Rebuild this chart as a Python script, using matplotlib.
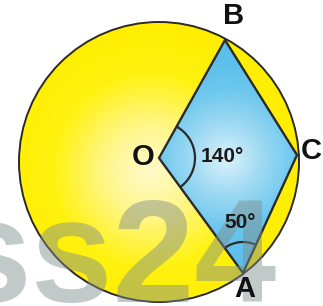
import numpy as np
import matplotlib
matplotlib.use("Agg")
import matplotlib.pyplot as plt
from matplotlib.patches import Circle, Polygon, Arc
from matplotlib.colors import LinearSegmentedColormap

# geometry (pixel coords of the diagram)
center = (159, 162)
radius = 140
points = {"O": (159, 158), "B": (225, 40), "C": (297, 155), "A": (243, 273)}
point_labels = ["B", "C", "O", "A"]
label_pos = {"B": (234, 16), "C": (311, 151), "O": (143, 157), "A": (245, 289)}
angle_labels = ["140°", "50°"]
angle_label_pos = [(222, 157), (240, 223)]

W, H = 323, 306
fig = plt.figure(figsize=(W / 100, H / 100), dpi=100)
ax = fig.add_axes([0, 0, 1, 1])
ax.set_xlim(0, W)
ax.set_ylim(H, 0)
ax.set_aspect("equal")
ax.axis("off")

yy, xx = np.mgrid[0:H, 0:W]

# yellow circle gradient
circ = Circle(center, radius, facecolor="none", edgecolor="none")
ax.add_patch(circ)
d = np.hypot(xx - 150, yy - 170) / 150
ycmap = LinearSegmentedColormap.from_list(
    "y", [(0, "#fffacc"), (0.3, "#fff68a"), (0.65, "#fff210"), (1, "#ffee00")])
im = ax.imshow(d, cmap=ycmap, vmin=0, vmax=1, extent=(0, W, H, 0), zorder=1)
im.set_clip_path(circ)

# blue quadrilateral gradient
quad_pts = [points[k] for k in ["O", "B", "C", "A"]]
quad = Polygon(quad_pts, closed=True, facecolor="none", edgecolor="none")
ax.add_patch(quad)
d2 = np.hypot(xx - 226, yy - 158) / 100
bcmap = LinearSegmentedColormap.from_list(
    "b", [(0, "#dcf2fb"), (0.35, "#9fdaf3"), (0.7, "#6cc7ee"), (1, "#5bbfea")])
im2 = ax.imshow(d2, cmap=bcmap, vmin=0, vmax=1, extent=(0, W, H, 0), zorder=2)
im2.set_clip_path(quad)

lc = "#2a2a2a"
ax.add_patch(Circle(center, radius, facecolor="none", edgecolor=lc, lw=1.4, zorder=3))
ax.add_patch(Polygon(quad_pts, closed=True, facecolor="none", edgecolor=lc, lw=1.7,
                     joinstyle="miter", zorder=3))

def ang(p, q):
    return np.degrees(np.arctan2(-(q[1] - p[1]), q[0] - p[0]))

O, B, C, A = points["O"], points["B"], points["C"], points["A"]
aOA, aOB = ang(O, A), ang(O, B)
ax.add_patch(Arc(O, 72, 72, theta1=-aOB, theta2=-aOA, color=lc, lw=1.6, zorder=3))
aAO, aAC = ang(A, O), ang(A, C)
ax.add_patch(Arc(A, 62, 62, theta1=-aAO, theta2=-aAC, color=lc, lw=1.6, zorder=3))

for k in point_labels:
    x, y = label_pos[k]
    ax.text(x, y, k, fontsize=21, fontweight="bold", family="Liberation Sans",
            ha="center", va="center", color="#111111", zorder=5)
for t, (x, y) in zip(angle_labels, angle_label_pos):
    ax.text(x, y, t, fontsize=15, fontweight="bold", family="Liberation Sans",
            ha="center", va="center", color="#1a1a1a", zorder=5)

# watermark
ax.text(277, 302, "ss24", fontsize=106, fontweight="bold", family="Liberation Sans",
        ha="right", va="baseline", color="#7f8d8d", alpha=0.47, zorder=4)

fig.savefig("out.png", dpi=100)
